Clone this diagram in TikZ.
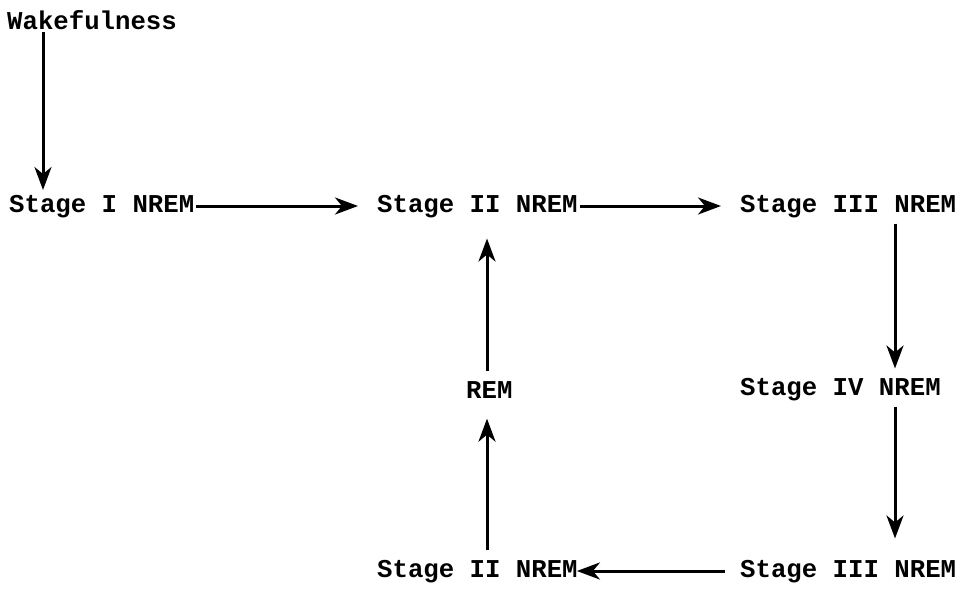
\documentclass[tikz,border=0pt]{standalone}
\usepackage{fontspec}
\setmonofont{Liberation Mono}
\usetikzlibrary{arrows.meta}
\begin{document}
\begin{tikzpicture}[x=1pt,y=-1pt,
  lbl/.style={anchor=west,inner sep=0pt,font=\ttfamily\bfseries\fontsize{25.7}{28}\selectfont},
  arr/.style={line width=3pt,-{Stealth[length=23pt,width=17pt,inset=7pt]}}]
\useasboundingbox (0,0) rectangle (960,594);
\node[lbl] (wake) at (7,20) {Wakefulness};
\node[lbl] (s1) at (9,207) {Stage I NREM};
\node[lbl] (s2) at (377,207) {Stage II NREM};
\node[lbl] (s3) at (740,207) {Stage III NREM};
\node[lbl] (s4) at (740,390) {Stage IV NREM};
\node[lbl] (rem) at (466,390) {REM};
\node[lbl] (s3b) at (740,572) {Stage III NREM};
\node[lbl] (s2b) at (377,572) {Stage II NREM};
\coordinate (xa) at (43,0);
\coordinate (xb) at (487,0);
\coordinate (xc) at (895,0);
\coordinate (ya) at (0,32);
\coordinate (yb) at (0,190);
\draw[arr] (ya -| xa) -- (yb -| xa);
\draw[arr,shorten >=19pt] ([xshift=2pt,yshift=1pt]s1.east) -- ([yshift=1pt]s2.west);
\draw[arr,shorten >=19pt] ([xshift=2pt,yshift=1pt]s2.east) -- ([yshift=1pt]s3.west);
\draw[arr,shorten >=-1pt,shorten <=15pt] ([yshift=1pt]s3b.west) -- ([yshift=1pt]s2b.east);
\draw[arr,shorten <=5pt,shorten >=10pt] (s3.south -| xc) -- (s4.north -| xc);
\draw[arr,shorten <=5pt,shorten >=22pt] (s4.south -| xc) -- (s3b.north -| xc);
\draw[arr,shorten <=10pt,shorten >=20pt] (s2b.north -| xb) -- (rem.south -| xb);
\draw[arr,shorten <=10pt,shorten >=20pt] (rem.north -| xb) -- (s2.south -| xb);
\end{tikzpicture}
\end{document}
